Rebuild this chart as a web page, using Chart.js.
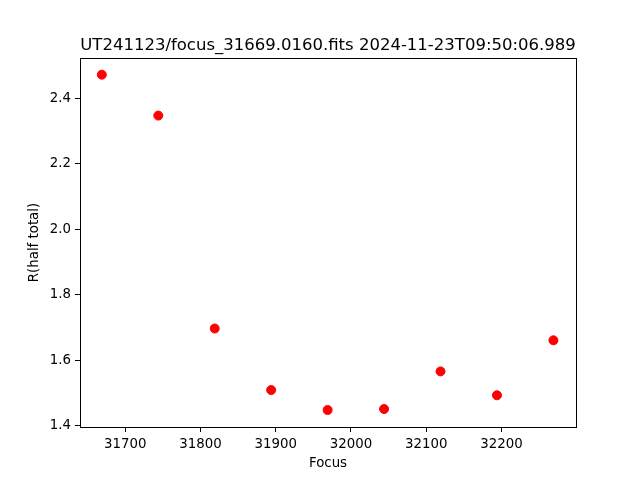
<!DOCTYPE html>
<html>
<head>
<meta charset="utf-8">
<script src="https://cdn.jsdelivr.net/npm/chart.js@4/dist/chart.umd.min.js"></script>
<style>
  html, body { margin: 0; padding: 0; background: #fff; }
  #wrap { width: 640px; height: 480px; }
</style>
</head>
<body>
<div id="wrap"><canvas id="c" width="640" height="480"></canvas></div>
<script>
const focusValues = [31669, 31744, 31819, 31894, 31969, 32044, 32119, 32194, 32269];
const radiusValues = [2.473, 2.348, 1.697, 1.509, 1.448, 1.451, 1.566, 1.493, 1.661];
const xTicks = [31700, 31800, 31900, 32000, 32100, 32200];
const yTicks = [1.4, 1.6, 1.8, 2.0, 2.2, 2.4];
const titleText = "UT241123/focus_31669.0160.fits 2024-11-23T09:50:06.989";

const font = "'DejaVu Sans', sans-serif";

// box around the plot area, like matplotlib spines, and the title centred over it
const frame = {
    id: "frame",
    afterDatasetsDraw(chart) {
        const a = chart.chartArea;
        const ctx = chart.ctx;
        ctx.save();
        ctx.strokeStyle = "#000";
        ctx.lineWidth = 1;
        ctx.strokeRect(Math.round(a.left) + 0.5, Math.round(a.top) + 0.5,
            Math.round(a.right - a.left), Math.round(a.bottom - a.top));
        ctx.fillStyle = "#000";
        ctx.font = "16.5px " + font;
        ctx.textAlign = "center";
        ctx.textBaseline = "alphabetic";
        ctx.fillText(titleText, (a.left + a.right) / 2, a.top - 8);
        ctx.restore();
    }
};

new Chart(document.getElementById("c"), {
    type: "scatter",
    data: {
        datasets: [{
            data: focusValues.map((f, i) => ({ x: f, y: radiusValues[i] })),
            backgroundColor: "#ff0000",
            borderColor: "#ff0000",
            pointRadius: 4.5,
            pointHoverRadius: 4.5
        }]
    },
    options: {
        responsive: false,
        animation: false,
        layout: { padding: { left: 0, right: 64, top: 58, bottom: 0 } },
        plugins: {
            legend: { display: false },
            tooltip: { enabled: false },
            title: { display: false }
        },
        scales: {
            x: {
                type: "linear",
                min: 31640,
                max: 32299,
                afterBuildTicks: s => { s.ticks = xTicks.map(v => ({ value: v })); },
                afterFit: s => { s.height = 53; },
                grid: { display: true, drawOnChartArea: false, drawTicks: true, tickLength: 5, color: "#000" },
                border: { display: true, color: "#000", width: 1 },
                ticks: { color: "#000", font: { family: font, size: 13.33 }, padding: 5, maxRotation: 0,
                    callback: v => String(v) },
                title: { display: true, text: "Focus", color: "#000",
                    font: { family: font, size: 13.33 }, padding: { top: 0, bottom: 8 } }
            },
            y: {
                type: "linear",
                min: 1.396,
                max: 2.524,
                afterBuildTicks: s => { s.ticks = yTicks.map(v => ({ value: v })); },
                afterFit: s => { s.width = 80; },
                grid: { display: true, drawOnChartArea: false, drawTicks: true, tickLength: 5, color: "#000" },
                border: { display: true, color: "#000", width: 1 },
                ticks: { color: "#000", font: { family: font, size: 13.33 }, padding: 4,
                    callback: v => v.toFixed(1) },
                title: { display: true, text: "R(half total)", color: "#000",
                    font: { family: font, size: 13.33 }, padding: { top: 27, bottom: 0 } }
            }
        }
    },
    plugins: [frame]
});
</script>
</body>
</html>
